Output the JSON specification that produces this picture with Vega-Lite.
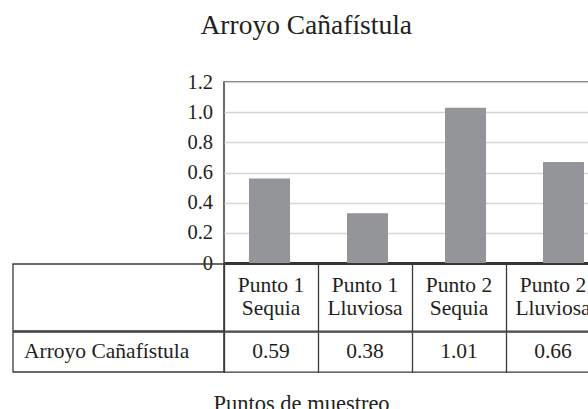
{
  "$schema": "https://vega.github.io/schema/vega-lite/v6.json",
  "padding": {"left": 11, "right": 0, "top": 11, "bottom": 0},
  "background": "white",
  "config": {"font": "Liberation Serif", "view": {"stroke": null}},
  "title": {"text": "Arroyo Cañafístula", "font": "Liberation Serif", "fontSize": 27.5, "fontWeight": "normal", "color": "#231f20", "anchor": "middle", "offset": 32},
  "data": {"values": [
    {"punto": "Punto 1\nSequia", "serie": "Arroyo Cañafístula", "valor": 0.59, "altura": 0.56},
    {"punto": "Punto 1\nLluviosa", "serie": "Arroyo Cañafístula", "valor": 0.38, "altura": 0.33},
    {"punto": "Punto 2\nSequia", "serie": "Arroyo Cañafístula", "valor": 1.01, "altura": 1.03},
    {"punto": "Punto 2\nLluviosa", "serie": "Arroyo Cañafístula", "valor": 0.66, "altura": 0.67}
  ]},
  "concat": [
    {
      "width": 376,
      "height": 181,
      "view": {"stroke": "#3a3a3a", "strokeWidth": 1.5},
      "mark": {"type": "bar", "color": "#939598"},
      "encoding": {
        "x": {"field": "punto", "type": "nominal", "sort": null,
              "scale": {"paddingInner": 0.5816, "paddingOuter": 0.2092, "align": 0.61},
              "axis": {"title": null, "labels": false, "ticks": false, "domainColor": "#333333", "domainWidth": 3}},
        "y": {"field": "altura", "type": "quantitative",
              "scale": {"domain": [0, 1.2], "nice": false},
              "axis": {"title": null, "values": [0, 0.2, 0.4, 0.6, 0.8, 1.0, 1.2],
                       "labelExpr": "datum.value === 0 ? '0' : format(datum.value, '.1f')",
                       "ticks": false, "domain": false, "labelPadding": 11.5,
                       "labelFontSize": 20.5, "labelColor": "#231f20",
                       "gridColor": "#d6d6d6", "gridWidth": 1.5}}
      }
    },
    {
      "width": 376,
      "height": 67,
      "view": {"stroke": "#3a3a3a", "strokeWidth": 1.3},
      "layer": [
        {
          "transform": [{"aggregate": [{"op": "count", "as": "n"}], "groupby": ["serie"]}],
          "mark": {"type": "rect", "fill": "transparent", "stroke": "#3a3a3a", "strokeWidth": 1.3},
          "encoding": {
            "x": {"field": "serie", "type": "nominal",
                  "scale": {"type": "band", "range": [-211, 0], "paddingInner": 0, "paddingOuter": 0},
                  "axis": null}
          }
        },
        {
          "mark": {"type": "text", "fontSize": 21.5, "lineBreak": "\n", "lineHeight": 23.3, "dy": -11.65, "color": "#231f20"},
          "encoding": {
            "x": {"field": "punto", "type": "nominal", "sort": null,
                  "scale": {"type": "band", "paddingInner": 0, "paddingOuter": 0},
                  "axis": {"title": null, "labels": false, "ticks": false, "domain": false, "grid": true,
                           "bandPosition": 0, "gridColor": "#3a3a3a", "gridWidth": 1.3, "gridOpacity": 1}},
            "text": {"field": "punto"}
          }
        }
      ],
      "resolve": {"scale": {"x": "independent"}, "axis": {"x": "independent"}}
    },
    {
      "width": 376,
      "height": 40,
      "view": {"stroke": "#3a3a3a", "strokeWidth": 1.3},
      "layer": [
        {
          "transform": [{"aggregate": [{"op": "count", "as": "n"}], "groupby": ["serie"]}],
          "mark": {"type": "rect", "fill": "transparent", "stroke": "#3a3a3a", "strokeWidth": 1.3},
          "encoding": {
            "x": {"field": "serie", "type": "nominal",
                  "scale": {"type": "band", "range": [-211, 0], "paddingInner": 0, "paddingOuter": 0},
                  "axis": null}
          }
        },
        {
          "transform": [{"aggregate": [{"op": "count", "as": "n"}], "groupby": ["serie"]}],
          "mark": {"type": "text", "fontSize": 21.5, "align": "left", "dx": 11, "color": "#231f20"},
          "encoding": {
            "x": {"field": "serie", "type": "nominal", "bandPosition": 0,
                  "scale": {"type": "band", "range": [-211, 0], "paddingInner": 0, "paddingOuter": 0},
                  "axis": null},
            "text": {"field": "serie"}
          }
        },
        {
          "mark": {"type": "text", "fontSize": 21.5, "color": "#231f20"},
          "encoding": {
            "x": {"field": "punto", "type": "nominal", "sort": null,
                  "scale": {"type": "band", "paddingInner": 0, "paddingOuter": 0},
                  "axis": {"title": "Puntos de muestreo", "labels": false, "ticks": false, "domain": false, "grid": true,
                           "bandPosition": 0, "gridColor": "#3a3a3a", "gridWidth": 1.3, "gridOpacity": 1,
                           "titleFontSize": 22.5, "titleFontWeight": "normal", "titleColor": "#231f20",
                           "titlePadding": 20, "titleX": 77}},
            "text": {"field": "valor", "format": ".2f"}
          }
        }
      ],
      "resolve": {"scale": {"x": "independent"}, "axis": {"x": "independent"}}
    }
  ],
  "columns": 1,
  "spacing": 1,
  "bounds": "flush"
}
